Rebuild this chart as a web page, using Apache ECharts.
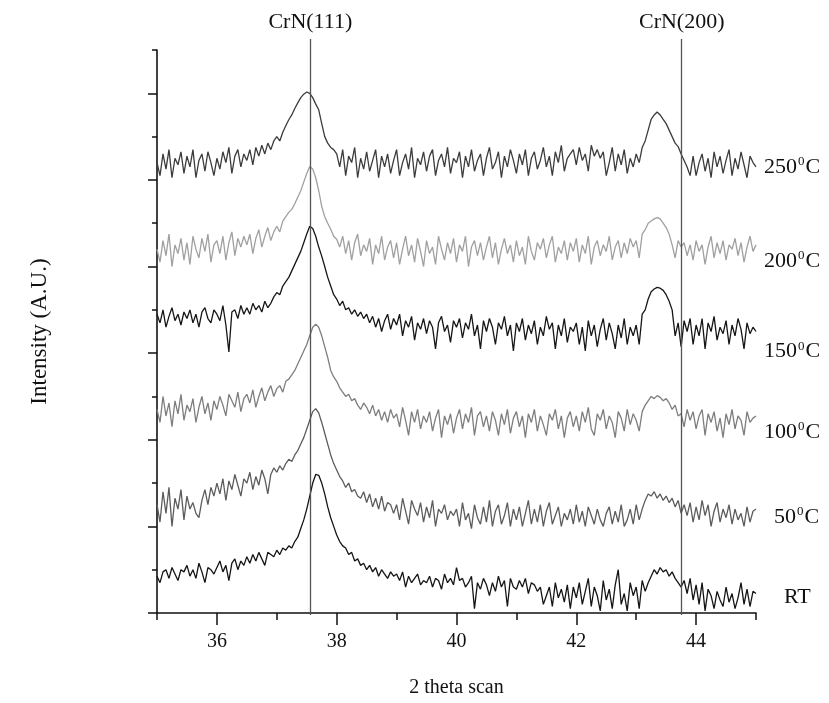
<!DOCTYPE html>
<html><head><meta charset="utf-8">
<script src="https://cdn.jsdelivr.net/npm/echarts@6/dist/echarts.min.js"></script>
<style>html,body{margin:0;padding:0;background:#fff}#c{width:829px;height:703px}</style>
</head><body><div id="c"></div>
<script>
// 2-theta grid: 35.00 .. 45.00 step 0.05 (201 points); intensities in arbitrary counts (offset stacked)
const X_START = 35, X_STEP = 0.05;
const xTicksMajor = [36, 38, 40, 42, 44];
const xTicksMinor = [35, 37, 39, 41, 43, 45];
const yTicksMajor = [0, 200, 400, 600, 800, 1000, 1200];
const yTicksMinor = [100, 300, 500, 700, 900, 1100, 1300];
const peakLines = [{x: 37.56, label: 'CrN(111)'}, {x: 43.76, label: 'CrN(200)'}];
const seriesNames = ['RT', '50', '100', '150', '200', '250'];

const RT = [85,70,95,100,80,105,90,75,100,95, 110,85,100,80,115,95,70,105,100,90,
 105,120,95,110,75,115,125,100,120,110, 130,115,135,120,140,125,110,140,135,130,
 145,135,150,145,155,150,165,175,195,215, 240,270,300,320,318,300,275,245,220,200,
 180,165,155,150,135,140,120,125,110,115, 100,110,95,105,85,100,90,80,95,85,
 90,75,95,60,85,70,80,90,65,75, 70,85,60,80,75,55,90,70,80,65,
 105,75,80,60,70,85,10,70,55,80, 65,40,70,50,85,60,75,15,80,60,
 55,75,60,80,45,70,65,50,60,20, 40,60,15,70,35,55,25,65,10,60,
 35,70,20,50,80,15,60,40,5,75, 30,55,10,65,100,20,45,5,70,40,
 60,10,75,50,70,85,100,90,105,95, 100,85,95,80,70,60,75,45,80,30,
 65,20,70,5,55,40,10,50,30,15, 60,25,45,10,35,70,20,55,15,50, 45];
const C50 = [250,210,280,230,290,200,265,240,285,215, 270,240,255,230,220,260,285,250,290,270,
 300,275,310,260,305,285,320,295,270,310, 300,325,285,315,295,330,310,275,320,335,
 325,340,330,345,355,350,365,375,390,405, 425,445,465,472,462,440,415,390,365,345,
 330,315,305,290,300,280,285,270,265,280, 255,275,245,265,240,270,235,255,250,230,
 250,215,265,235,205,260,240,225,255,210, 245,220,260,200,240,230,250,215,235,225,
 240,200,255,215,230,195,250,220,205,245, 210,260,200,235,250,205,225,255,200,240,
 215,245,200,230,260,205,240,210,250,200, 235,255,205,225,245,200,230,215,240,205,
 250,210,235,200,245,225,205,240,215,200, 230,245,205,235,210,250,200,215,240,205,
 250,215,240,260,275,270,280,265,275,260, 270,255,265,245,260,230,250,225,255,210,
 245,215,260,225,250,200,235,255,210,240, 220,250,205,240,215,230,200,245,210,235, 240];
const C100 = [470,440,500,455,485,430,490,460,505,445, 480,465,495,440,475,500,460,485,445,490,
 470,500,480,455,505,490,475,510,465,495, 505,485,515,475,500,520,490,510,525,500,
 518,525,510,535,540,550,560,575,590,605, 620,640,660,667,660,640,615,590,560,545,
 535,520,510,500,505,490,495,480,470,485, 475,460,480,455,470,445,465,440,470,450,
 460,430,475,445,410,465,440,470,425,455, 440,465,420,450,470,405,455,435,460,415,
 450,470,425,460,440,475,410,455,465,430, 455,420,465,445,410,460,435,470,415,450,
 465,430,455,405,460,440,470,420,455,435, 410,460,445,470,425,455,405,450,465,430,
 455,420,465,440,475,425,410,460,445,470, 425,455,440,405,465,450,420,470,435,460,
 445,420,465,480,490,500,495,502,498,490, 495,485,470,480,455,460,430,470,445,465,
 425,455,470,410,460,440,465,420,450,405, 460,435,470,425,455,445,410,465,440,450, 455];
const C150 = [690,670,700,660,685,705,675,690,665,695, 680,700,670,690,660,695,705,680,670,700,
 690,675,710,665,603,695,700,680,710,690, 705,690,715,700,710,695,720,705,715,730,
 740,735,755,765,775,790,805,820,835,855, 875,893,888,870,845,824,800,775,755,735,
 725,710,720,700,705,690,700,685,695,680, 690,670,685,660,680,650,675,690,655,680,
 665,690,640,675,660,685,630,670,655,680, 645,675,660,610,670,685,650,665,625,675,
 660,680,635,670,655,690,640,665,610,675, 650,680,660,620,670,655,685,640,665,605,
 670,650,680,630,665,645,675,620,660,640, 685,655,670,610,665,640,680,625,660,650,
 670,620,660,605,675,640,665,615,655,680, 630,670,645,610,665,635,680,620,660,640,
 665,620,690,700,725,742,748,752,750,745, 735,720,700,640,670,615,675,650,680,620,
 665,640,680,610,670,650,685,630,660,645, 675,620,665,640,680,655,610,670,645,660, 650];
const C200 = [840,810,860,825,875,800,850,830,865,815, 855,805,870,840,820,865,835,875,810,850,
 860,830,870,815,855,880,825,865,845,870, 850,875,830,865,885,845,870,890,860,880,
 893,880,905,915,925,932,945,960,975,995, 1015,1031,1025,1005,975,939,915,900,886,870,
 863,845,870,830,860,815,855,875,825,850, 835,865,805,850,830,870,815,845,860,820,
 855,805,840,870,825,850,810,865,835,800, 860,830,845,805,870,840,815,855,830,865,
 810,850,835,870,800,845,860,825,855,815, 845,870,820,855,805,840,865,830,850,810,
 860,825,845,805,870,835,815,855,840,865, 820,850,870,810,845,830,860,815,855,835,
 865,810,850,830,870,805,845,860,825,850, 835,870,815,845,860,820,855,830,865,845,
 860,820,875,885,900,905,910,913,910,900, 890,875,850,820,860,845,855,825,850,815,
 860,835,850,805,845,870,820,855,830,860, 815,850,840,865,825,855,810,845,870,835, 850];
const C250 = [1040,1010,1060,1025,1070,1005,1050,1035,1065,1015, 1055,1030,1070,1005,1045,1060,1020,1065,1040,1010,
 1050,1025,1065,1040,1075,1015,1055,1070,1030,1060, 1045,1070,1035,1075,1055,1080,1060,1085,1070,1090,
 1100,1090,1110,1125,1139,1150,1165,1178,1190,1198, 1203,1200,1190,1175,1162,1130,1100,1085,1075,1070,
 1060,1030,1070,1010,1055,1040,1075,1005,1050,1025, 1065,1020,1045,1070,1005,1055,1030,1060,1015,1045,
 1070,1010,1040,1060,1025,1075,1005,1050,1035,1065, 1020,1055,1070,1010,1045,1060,1030,1075,1015,1050,
 1040,1065,1005,1055,1030,1070,1020,1045,1060,1010, 1050,1075,1025,1040,1065,1005,1055,1030,1070,1045,
 1015,1060,1035,1070,1010,1050,1065,1025,1045,1075, 1030,1055,1010,1065,1040,1080,1020,1050,1060,1070,
 1035,1075,1045,1060,1020,1080,1055,1070,1050,1065, 1010,1040,1075,1020,1060,1035,1070,1015,1050,1030,
 1060,1040,1075,1090,1115,1140,1150,1157,1150,1140, 1130,1115,1100,1085,1077,1060,1045,1030,1010,1055,
 1010,1040,1060,1020,1050,1005,1065,1030,1055,1015, 1045,1070,1010,1050,1025,1065,1035,1005,1055,1040, 1030];

const SERIF = '"Liberation Serif","DejaVu Serif",serif';
const toPairs = arr => arr.map((v, i) => [+(X_START + i * X_STEP).toFixed(2), v]);
const styles = [
  {data: RT,   color: '#151515', label: '{a|RT}', off: [22, 4]},
  {data: C50,  color: '#5c5c5c', label: '{a|50}{s|0}{a|C}', off: [12, 8]},
  {data: C100, color: '#7e7e7e', label: '{a|100}{s|0}{a|C}', off: [2, 16]},
  {data: C150, color: '#161616', label: '{a|150}{s|0}{a|C}', off: [2, 20]},
  {data: C200, color: '#a0a0a0', label: '{a|200}{s|0}{a|C}', off: [2, 16]},
  {data: C250, color: '#3c3c3c', label: '{a|250}{s|0}{a|C}', off: [2, 0]}
];
const rich = {
  a: {fontFamily: SERIF, fontSize: 22, color: '#111'},
  s: {fontFamily: SERIF, fontSize: 13, color: '#111', verticalAlign: 'top', padding: [0, 1, 10, 1]}
};

const series = styles.map((s, k) => ({
  name: seriesNames[k], type: 'line', data: toPairs(s.data), showSymbol: false,
  lineStyle: {color: s.color, width: 1.3}, itemStyle: {color: s.color},
  animation: false, silent: true,
  endLabel: {show: true, formatter: s.label, rich: rich, distance: 6, offset: s.off}
}));
// reference lines for the CrN reflections, drawn in an overlay grid that reaches a little higher
series.push({
  type: 'line', xAxisIndex: 2, yAxisIndex: 2, data: [], silent: true, animation: false,
  markLine: {
    symbol: 'none', silent: true, animation: false,
    lineStyle: {color: '#555', width: 1.3, type: 'solid'},
    label: {show: true, position: 'end', formatter: p => p.name || '', fontFamily: SERIF, fontSize: 22, color: '#111', distance: 6},
    data: peakLines.map(p => ({xAxis: p.x, name: p.label}))
  }
});

const chart = echarts.init(document.getElementById('c'));
chart.setOption({
  backgroundColor: '#fff',
  grid: [{left: 157, right: 73, top: 50, bottom: 88}, {left: 157, right: 73, top: 39, bottom: 88}],
  xAxis: [{
    type: 'value', min: 35, max: 45, position: 'bottom',
    name: '2 theta scan', nameLocation: 'middle', nameGap: 65,
    nameTextStyle: {fontFamily: SERIF, fontSize: 20, color: '#111'},
    axisLine: {show: true, lineStyle: {color: '#111', width: 1.6}},
    axisTick: {show: true, length: 12, customValues: xTicksMajor, lineStyle: {color: '#111', width: 1.5}},
    axisLabel: {customValues: xTicksMajor, fontFamily: SERIF, fontSize: 20, color: '#111', margin: 19},
    splitLine: {show: false}
  }, {
    type: 'value', min: 35, max: 45, position: 'bottom',
    axisLine: {show: false},
    axisTick: {show: true, length: 7, customValues: xTicksMinor, lineStyle: {color: '#111', width: 1.5}},
    axisLabel: {show: false}, splitLine: {show: false}
  }, {
    type: 'value', gridIndex: 1, min: 35, max: 45, show: false
  }],
  yAxis: [{
    type: 'value', min: 0, max: 1300, position: 'left',
    name: 'Intensity (A.U.)', nameLocation: 'middle', nameGap: 106,
    nameTextStyle: {fontFamily: SERIF, fontSize: 23, color: '#111'},
    axisLine: {show: true, lineStyle: {color: '#111', width: 1.6}},
    axisTick: {show: true, length: 9, customValues: yTicksMajor, lineStyle: {color: '#111', width: 1.5}},
    axisLabel: {show: false}, splitLine: {show: false}
  }, {
    type: 'value', min: 0, max: 1300, position: 'left',
    axisLine: {show: false},
    axisTick: {show: true, length: 5, customValues: yTicksMinor, lineStyle: {color: '#111', width: 1.5}},
    axisLabel: {show: false}, splitLine: {show: false}
  }, {
    type: 'value', gridIndex: 1, min: 0, max: 1, show: false
  }],
  series: series
});
</script></body></html>
